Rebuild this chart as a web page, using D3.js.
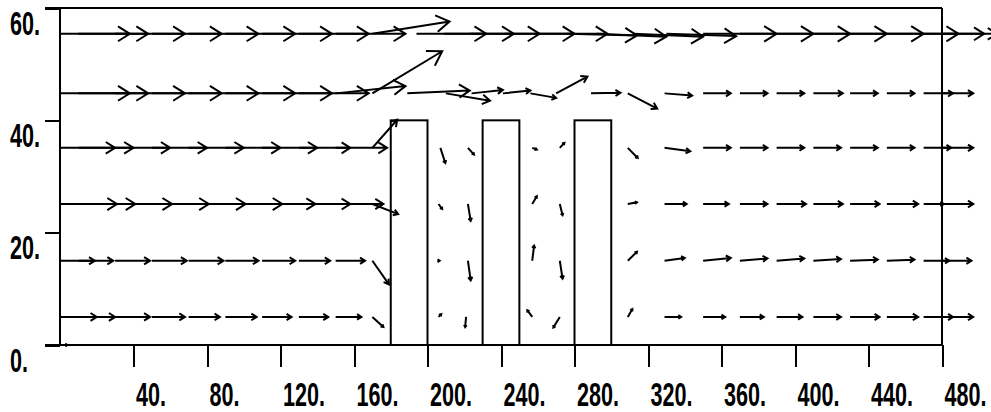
<!DOCTYPE html>
<html>
<head>
<meta charset="utf-8">
<script src="https://cdn.jsdelivr.net/npm/d3@7"></script>
<style>
  body { margin: 0; background: #fff; }
  svg { display: block; }
  .lbl { font-family: "Liberation Sans", Arial, sans-serif; font-weight: bold; font-size: 30px; fill: #000; }
</style>
</head>
<body>
<div id="chart"></div>
<script>
// tick values
const xTicks = [40, 80, 120, 160, 200, 240, 280, 320, 360, 400, 440, 480];
const yTicks = [0, 20, 40, 60];

// blocks: left edge, width, height (data units)
const blockX = [180, 230, 280];
const blockW = 20;
const blockH = 40;

// velocity vectors, one list per row: [x, u, v]
const rowY = [55.4, 44.8, 35.1, 25.1, 15, 5];
const row55 = [[0,38,0],[10,38,0],[30,38,0],[50,38,0],[70,38,0],[90,38,0],[110,38,0],[130,38,0],[150,38,0],
  [170,42,2.2],[194,38,0],[209,38,0],[223,38,0],[242,38,0],[260,38,0],[276,38,-0.3],[292,38,-0.5],
  [312,38,-0.5],[330,38,-0.4],[350,40,0],[370,40,0],[390,40,0],[410,40,0],[430,40,0],[450,39,0],[470,33,0],[480,30,0]];
const row45 = [[0,38,0],[10,38,0],[30,38,0],[50,38,0],[70,38,0],[90,38,0],[110,38,0],[130,38,0],
  [150,38,1.3],[170,38,7.5],[189,34,0.5],[210,24,-1.3],[224,17,0.6],[241,15,0.5],[256,14,-0.8],
  [270,17,3],[289,16,0.1],[309,16,-2.7],[329,15,-0.4],
  [350,15,0],[370,15,0],[390,15,0],[410,16,0],[430,15,0],[450,15,0],[470,16,0],[480,17,0]];
const row35 = [[0,30,0],[10,30,0],[30,30,0],[50,30,0],[70,30,0],[90,30,0],[110,30,0],[130,28,0],[150,28,0],
  [170,13.5,5],[207,2.7,-2.7],[222,3.3,-1.2],[257,2.5,-0.3],[272,2.5,0.9],[309,5.4,-1.8],[329,14,-0.6],
  [350,15,0],[370,15,0],[390,15,0],[410,15,0],[430,15,0],[450,15,0],[470,15,0],[480,17,0]];
const row25 = [[0,31,0],[10,31,0],[30,31,0],[50,31,0],[70,31,0],[90,31,0],[110,29,0],[130,28,0],[150,26,0],
  [170,14,-1.8],[206,2,-0.9],[222,1.5,-3],[257,2.5,1.4],[272,1.5,-2],[309,5,0.3],[329,12,0],
  [350,14,0],[370,15,0],[390,16,0],[410,16,0],[430,16,0],[450,17,0],[470,11,0],[480,17,0]];
const row15 = [[0,19,0],[10,19,0],[30,19,0],[50,19,0],[70,19,0],[90,18,0],[110,18,0],[130,17,0],[150,16,0],
  [170,9,-4.2],[206,0.6,0],[222,1.5,-3.5],[257,1,2.7],[272,1.5,-3.2],[309,5,1.6],[329,11,0.5],
  [350,15,0.5],[370,15,0.4],[390,15,0.4],[410,15,0.3],[430,15,0.2],[450,15,0.2],[470,14,0],[480,16,0]];
const row5 = [[0,20,0],[10,20,0],[30,19,0],[50,18,0],[70,17,0],[90,17,0],[110,16,0],[130,16,0],[150,14,0],
  [170,6,-1.8],[206,1.5,0.5],[221,-0.5,-1.8],[257,-2.7,1.2],[272,-3.5,-1.9],[309,2.5,1.4],[329,9,0],
  [350,12,0],[370,13,0],[390,14,0],[410,15,0],[430,16,0],[450,17,0],[470,16,0],[480,17,0]];
const row0 = [[0,4,0]];

const width = 991, height = 412;

const svg = d3.select("#chart")
  .append("svg")
    .attr("width", width)
    .attr("height", height);

const x = d3.scaleLinear().domain([0, 480]).range([60, 942]);
const y = d3.scaleLinear().domain([0, 60]).range([345, 8]);

// blocks
svg.append("g")
  .selectAll("rect")
  .data(blockX)
  .join("rect")
    .attr("x", d => x(d))
    .attr("y", y(blockH))
    .attr("width", d => x(d + blockW) - x(d))
    .attr("height", y(0) - y(blockH))
    .attr("fill", "none")
    .attr("stroke", "#000")
    .attr("stroke-width", 2);

// frame
const frame = svg.append("g").attr("stroke", "#000").attr("stroke-width", 2).attr("shape-rendering", "crispEdges");
frame.append("line").attr("x1", 45).attr("x2", x(480)).attr("y1", y(60)).attr("y2", y(60));
frame.append("line").attr("x1", 45).attr("x2", x(480)).attr("y1", y(0)).attr("y2", y(0));
frame.append("line").attr("x1", x(0)).attr("x2", x(0)).attr("y1", y(60)).attr("y2", y(0));
frame.append("line").attr("x1", x(480)).attr("x2", x(480)).attr("y1", y(60)).attr("y2", y(0));

// axes
const xAxis = svg.append("g")
  .attr("transform", `translate(0,${y(0)})`)
  .call(d3.axisBottom(x).tickValues(xTicks).tickSize(22).tickFormat(d => d + "."));
const yAxis = svg.append("g")
  .attr("transform", `translate(${x(0)},0)`)
  .call(d3.axisLeft(y).tickValues(yTicks).tickSize(15).tickFormat(d => d + "."));
[xAxis, yAxis].forEach(a => {
  a.select(".domain").remove();
  a.selectAll(".tick line").attr("stroke", "#000").attr("stroke-width", 2).attr("shape-rendering", "crispEdges");
});
xAxis.selectAll(".tick text")
  .attr("class", "lbl")
  .attr("x", null).attr("y", null).attr("dy", null)
  .attr("text-anchor", "start")
  .attr("transform", "translate(2,61) scale(0.72,1.12)");
yAxis.selectAll(".tick text")
  .attr("class", "lbl")
  .attr("x", null).attr("y", null).attr("dy", null)
  .attr("text-anchor", "start")
  .attr("transform", "translate(-50,26) scale(0.72,1.12)");

// vectors
const rows = [row55, row45, row35, row25, row15, row5];
const vectors = rows.flatMap((r, i) => r.map(d => ({x: d[0], y: rowY[i], u: d[1], v: d[2]})))
  .concat(row0.map(d => ({x: d[0], y: 0, u: d[1], v: d[2]})));

const headAngle = 32 * Math.PI / 180;
const vecPath = function(d) {
  const x1 = x(d.x), y1 = y(d.y), x2 = x(d.x + d.u), y2 = y(d.y + d.v);
  const len = Math.hypot(x2 - x1, y2 - y1);
  const a = Math.atan2(y2 - y1, x2 - x1);
  const h = Math.max(2.5, 0.2 * len);
  const p = d3.path();
  p.moveTo(x1, y1);
  p.lineTo(x2, y2);
  p.moveTo(x2 - h * Math.cos(a - headAngle), y2 - h * Math.sin(a - headAngle));
  p.lineTo(x2, y2);
  p.lineTo(x2 - h * Math.cos(a + headAngle), y2 - h * Math.sin(a + headAngle));
  return p.toString();
};

svg.append("g")
  .selectAll("path")
  .data(vectors)
  .join("path")
    .attr("d", vecPath)
    .attr("fill", "none")
    .attr("stroke", "#000")
    .attr("stroke-width", 2);
</script>
</body>
</html>
